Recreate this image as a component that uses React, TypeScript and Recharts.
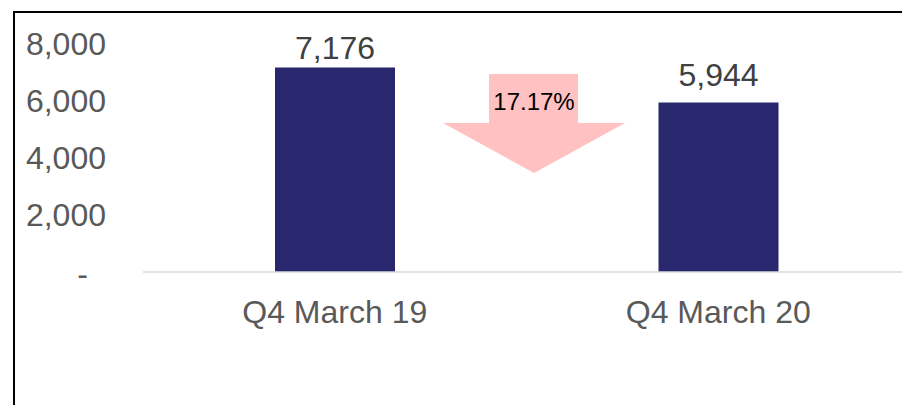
import { BarChart, Bar, XAxis, YAxis, LabelList } from "recharts";

const categories = ["Q4 March 19", "Q4 March 20"];
const units = [7176, 5944];
const yTicks = [0, 2000, 4000, 6000, 8000];

const data = categories.map((name, i) => ({ name, units: units[i] }));
const dropPct = ((units[0] - units[1]) / units[0]) * 100;

const FONT = "'Liberation Sans', Arial, sans-serif";
const PLOT_TOP = 36;

function YTick(props: any) {
  const { x, y, payload } = props;
  const zero = payload.value === 0;
  return (
    <text
      x={zero ? x - 18 : x}
      y={y}
      dy={zero ? 13 : 11}
      textAnchor="end"
      fill="#595959"
      fontSize={32}
      fontFamily={FONT}
    >
      {zero ? "-" : payload.value.toLocaleString("en-US")}
    </text>
  );
}

// Excel-style value label: above the bar, but kept inside the plot area
function ValueLabel(props: any) {
  const { x, y, width, value } = props;
  const baseline = Math.max(y - 17, PLOT_TOP + 15);
  return (
    <text
      x={x + width / 2}
      y={baseline}
      textAnchor="middle"
      fill="#404040"
      fontSize={32}
      fontFamily={FONT}
    >
      {Number(value).toLocaleString("en-US")}
    </text>
  );
}

export default function App() {
  return (
    <div style={{ position: "relative", width: 902, height: 397, overflow: "hidden" }}>
      <div
        style={{
          position: "absolute",
          left: 5,
          top: 3,
          width: 1200,
          height: 1200,
          border: "2.5px solid #000",
          boxSizing: "border-box",
        }}
      />
      <div style={{ position: "absolute", left: 0, top: 0 }}>
        <BarChart
          width={902}
          height={397}
          data={data}
          margin={{ top: PLOT_TOP, right: 0, bottom: 73, left: 0 }}
        >
          <XAxis
            dataKey="name"
            height={60}
            tickLine={false}
            tickSize={0}
            tickMargin={28}
            axisLine={{ stroke: "#D9D9D9", strokeWidth: 1.5 }}
            tick={{ fill: "#595959", fontSize: 32, fontFamily: FONT }}
          />
          <YAxis
            width={135}
            domain={[0, 8000]}
            ticks={yTicks}
            axisLine={false}
            tickLine={false}
            tickSize={0}
            tickMargin={37}
            tick={<YTick />}
          />
          <Bar dataKey="units" fill="#29286F" barSize={120} isAnimationActive={false}>
            <LabelList dataKey="units" content={<ValueLabel />} />
          </Bar>
        </BarChart>
      </div>
      <svg
        width={902}
        height={397}
        style={{ position: "absolute", left: 0, top: 0, pointerEvents: "none" }}
      >
        <polygon
          points="481,66 570,66 570,115 617,115 526,165 435,115 481,115"
          fill="#FFC1C1"
        />
        <text
          x={526}
          y={102}
          textAnchor="middle"
          fontSize={24}
          fontFamily={FONT}
          fill="#000"
        >
          {dropPct.toFixed(2)}%
        </text>
      </svg>
    </div>
  );
}
